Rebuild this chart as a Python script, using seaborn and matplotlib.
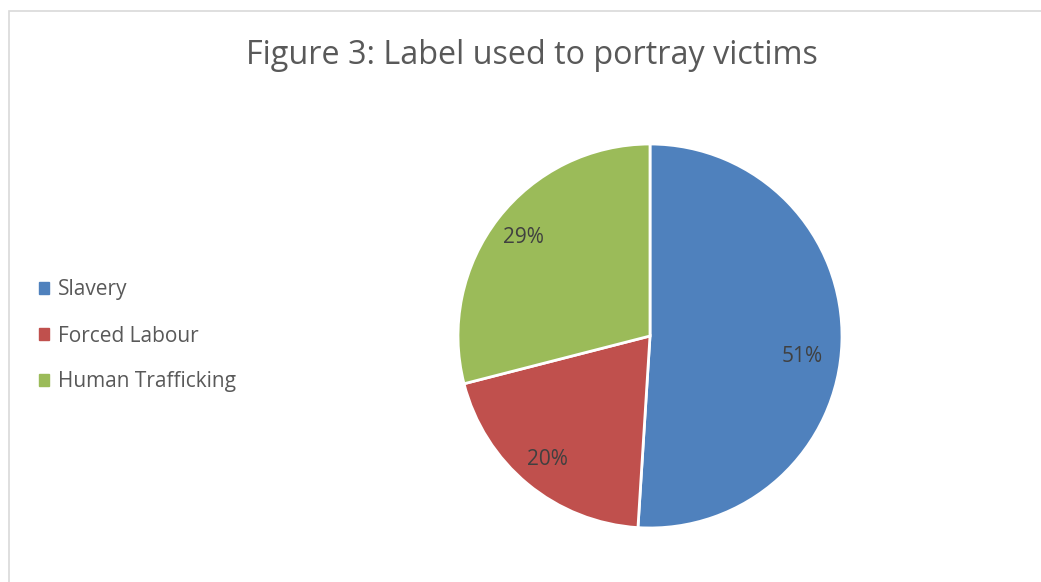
import matplotlib
matplotlib.use("Agg")
import matplotlib.pyplot as plt
import seaborn as sns
from matplotlib.patches import Rectangle

labels = ["Slavery", "Forced Labour", "Human Trafficking"]
shares = [51, 20, 29]
colours = ["#4F81BD", "#C0504D", "#9BBB59"]

sns.set_theme(style="white")
plt.rcParams['font.family'] = ['Open Sans', 'DejaVu Sans']
pal = sns.color_palette(colours)

W, H = 1041, 582
fig = plt.figure(figsize=(W / 100, H / 100), dpi=100)
fig.patch.set_facecolor("white")

# chart frame (light grey border, runs off the right/bottom edge)
fig.patches.append(Rectangle((9 / W, -0.05), 1.1, (H - 11) / H + 0.05,
                             transform=fig.transFigure, fill=False,
                             edgecolor="#D9D9D9", linewidth=1.2))

# pie axes: centre (650, 336) px, radius 192 px
r = 192
cx, cy = 650, H - 336
ax = fig.add_axes([(cx - r) / W, (cy - r) / H, 2 * r / W, 2 * r / H])
wedges, texts, autotexts = ax.pie(
    shares, colors=pal, startangle=90, counterclock=False,
    autopct=lambda p: f"{p:.0f}%", pctdistance=0.835,
    wedgeprops=dict(edgecolor="white", linewidth=2),
    textprops=dict(color="#404040", fontsize=15))
# Excel nudges the big slice's label a bit lower/inward
x0, y0 = autotexts[0].get_position()
autotexts[0].set_position((x0 - 0.04, y0 - 0.078))
ax.set_xlim(-1, 1)
ax.set_ylim(-1, 1)
ax.set_aspect("equal")
ax.axis("off")

fig.text(532 / W, 1 - 56 / H, "Figure 3: Label used to portray victims",
         ha="center", va="center", fontsize=23.3, color="#595959")

handles = [Rectangle((0, 0), 1, 1, color=c) for c in pal]
fig.legend(handles, labels, loc="center left", bbox_to_anchor=(20 / W, 1 - 336 / H),
           frameon=False, fontsize=15, labelcolor="#595959",
           handlelength=0.5, handleheight=0.5, handletextpad=0.4,
           labelspacing=1.2)

fig.savefig("out.png", dpi=100)
